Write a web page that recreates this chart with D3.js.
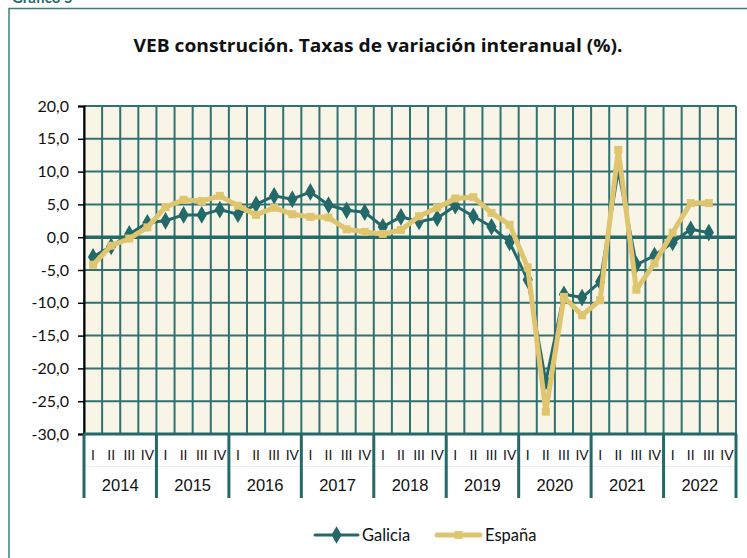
<!DOCTYPE html>
<html>
<head>
<meta charset="utf-8">
<script src="https://cdn.jsdelivr.net/npm/d3@7"></script>
<style>
  body { margin: 0; background: #fff; }
  svg { display: block; font-family: Lato, "Open Sans", sans-serif; }
</style>
</head>
<body>
<svg id="chart" width="747" height="558"></svg>
<script>
const years = ["2014", "2015", "2016", "2017", "2018", "2019", "2020", "2021", "2022"];
const quarters = ["I", "II", "III", "IV"];

// one value per quarter, 2014 I .. 2022 IV (null = no data yet)
const galicia = [
  -3.0, -1.4, 0.5, 2.2,
  2.5, 3.4, 3.4, 4.2,
  3.5, 5.0, 6.3, 5.8,
  6.9, 4.9, 4.1, 3.8,
  1.6, 3.1, 2.4, 2.9,
  4.8, 3.2, 1.6, -0.8,
  -6.5, -22.0, -8.7, -9.2,
  -6.8, 10.2, -4.2, -2.8,
  -0.8, 1.2, 0.7, null
];
const espana = [
  -4.2, -1.3, -0.2, 1.5,
  4.6, 5.7, 5.5, 6.3,
  4.8, 3.4, 4.5, 3.5,
  3.1, 3.0, 1.2, 0.8,
  0.5, 1.1, 3.2, 4.5,
  5.9, 6.1, 3.7, 1.9,
  -4.6, -26.6, -9.1, -11.9,
  -9.6, 13.3, -8.0, -4.0,
  0.7, 5.2, 5.2, null
];
const yTicks = [-30, -25, -20, -15, -10, -5, 0, 5, 10, 15, 20];

const teal = "#24696a";
const gold = "#dfc56f";

const svg = d3.select("#chart");

// outer frame and the caption above it (cut off at the top, as in the source)
svg.append("text")
  .attr("x", 12).attr("y", 3)
  .attr("fill", teal).attr("font-weight", 700).attr("font-size", 15)
  .text("Gráfico 5");
svg.append("rect")
  .attr("x", 9).attr("y", 8.5).attr("width", 780).attr("height", 600)
  .attr("fill", "none").attr("stroke", "#3f7b7b").attr("stroke-width", 1.5);

svg.append("text")
  .attr("x", 378).attr("y", 52)
  .attr("text-anchor", "middle")
  .attr("font-family", "'Open Sans', sans-serif")
  .attr("font-weight", 700).attr("font-size", 18).attr("fill", "#111")
  .attr("textLength", 489).attr("lengthAdjust", "spacingAndGlyphs")
  .text("VEB construción. Taxas de variación interanual (%).");

const plotLeft = 84, plotRight = 736, plotTop = 106, plotBottom = 434;

const keys = years.flatMap(yr => quarters.map(q => yr + "-" + q));
const x = d3.scaleBand().domain(keys).range([plotLeft, plotRight]);
const xYear = d3.scaleBand().domain(years).range([plotLeft, plotRight]);
const y = d3.scaleLinear().domain([-30, 20]).range([plotBottom, plotTop]);

// plot background
svg.append("rect")
  .attr("x", plotLeft).attr("y", plotTop)
  .attr("width", plotRight - plotLeft).attr("height", plotBottom - plotTop)
  .attr("fill", "#f8f4e6");

// grid
const grid = svg.append("g").attr("stroke", "#2f7272").attr("stroke-width", 2);
grid.selectAll("line.v")
  .data(keys.map(k => x(k)).concat([plotRight]))
  .join("line")
  .attr("class", "v")
  .attr("x1", d => d).attr("x2", d => d)
  .attr("y1", plotTop).attr("y2", plotBottom);
grid.selectAll("line.h")
  .data(yTicks)
  .join("line")
  .attr("class", "h")
  .attr("x1", plotLeft).attr("x2", plotRight)
  .attr("y1", d => y(d)).attr("y2", d => y(d))
  .attr("stroke-width", d => d === 0 ? 3.5 : 2)
  .attr("stroke", d => d === 0 ? teal : null);

// y axis
const fmt = d => d3.format(".1f")(d).replace(".", ",").replace("−", "-");
const yAxis = svg.append("g")
  .attr("transform", `translate(${plotLeft},0)`)
  .call(d3.axisLeft(y).tickValues(yTicks).tickFormat(fmt).tickSize(6).tickPadding(9));
yAxis.select(".domain").attr("stroke", "#000").attr("stroke-width", 2);
yAxis.selectAll(".tick line").attr("stroke", "#000").attr("stroke-width", 1.5);
yAxis.selectAll("text")
  .attr("font-size", 16).attr("fill", "#111")
  .attr("font-family", "Lato, sans-serif");

// category axis: quarters then years
const qAxis = svg.append("g")
  .attr("transform", `translate(0,${plotBottom})`)
  .call(d3.axisBottom(x).tickSize(0).tickPadding(16).tickFormat(d => d.split("-")[1]));
qAxis.select(".domain").remove();
qAxis.selectAll("text").attr("font-size", 14).attr("fill", "#111");

const yrAxis = svg.append("g")
  .attr("transform", `translate(0,${plotBottom})`)
  .call(d3.axisBottom(xYear).tickSize(0).tickPadding(45));
yrAxis.select(".domain").remove();
yrAxis.selectAll("text").attr("font-size", 16.5).attr("fill", "#111");

svg.append("line")
  .attr("x1", plotLeft).attr("x2", plotRight)
  .attr("y1", 466.5).attr("y2", 466.5)
  .attr("stroke", "#e6eeee").attr("stroke-width", 1);
svg.append("line")
  .attr("x1", plotLeft).attr("x2", plotRight + 1)
  .attr("y1", plotBottom).attr("y2", plotBottom)
  .attr("stroke", teal).attr("stroke-width", 3);
svg.append("g").selectAll("line")
  .data(years.map(yr => xYear(yr)).concat([plotRight]))
  .join("line")
  .attr("x1", d => d).attr("x2", d => d)
  .attr("y1", plotBottom).attr("y2", 498)
  .attr("stroke", teal).attr("stroke-width", 3);

// series
const cx = i => x(keys[i]) + x.bandwidth() / 2;
const line = d3.line()
  .defined(d => d != null)
  .x((d, i) => cx(i))
  .y(d => y(d));

const diamond = d3.symbol().type(d3.symbolDiamond).size(90);
const square = d3.symbol().type(d3.symbolSquare).size(64);

function drawSeries(values, color, width, symbol) {
  const g = svg.append("g");
  g.append("path")
    .datum(values)
    .attr("fill", "none")
    .attr("stroke", color)
    .attr("stroke-width", width)
    .attr("stroke-linejoin", "round")
    .attr("d", line);
  g.selectAll("path.m")
    .data(values.map((v, i) => [v, i]).filter(d => d[0] != null))
    .join("path")
    .attr("class", "m")
    .attr("transform", d => `translate(${cx(d[1])},${y(d[0])})`)
    .attr("d", symbol)
    .attr("fill", color);
}
drawSeries(galicia, teal, 3, diamond);
drawSeries(espana, gold, 5, square);

// legend
const legend = [
  {name: "Galicia", color: teal, width: 3, symbol: diamond, x: 315, tx: 362},
  {name: "España", color: gold, width: 5, symbol: square, x: 437, tx: 485}
];
const lg = svg.append("g").selectAll("g").data(legend).join("g");
lg.append("line")
  .attr("x1", d => d.x).attr("x2", d => d.x + 43)
  .attr("y1", 535).attr("y2", 535)
  .attr("stroke", d => d.color).attr("stroke-width", d => d.width)
  .attr("stroke-linecap", "round");
lg.append("path")
  .attr("transform", d => `translate(${d.x + 21.5},535)`)
  .attr("d", d => d.symbol())
  .attr("fill", d => d.color);
lg.append("text")
  .attr("x", d => d.tx).attr("y", 541)
  .attr("font-size", 16.5).attr("fill", "#111")
  .text(d => d.name);
</script>
</body>
</html>
